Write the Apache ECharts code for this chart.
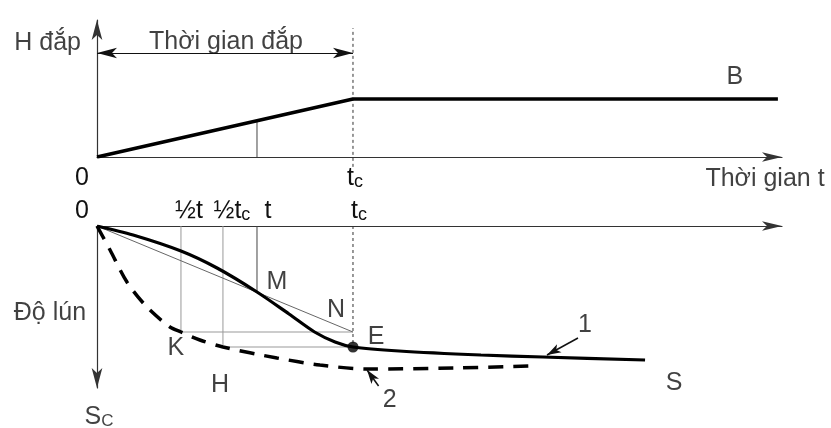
<!DOCTYPE html>
<html>
<head>
<meta charset="utf-8">
<script src="https://cdn.jsdelivr.net/npm/echarts@6/dist/echarts.min.js"></script>
<style>
html,body{margin:0;padding:0;background:#fff;}
#chart{width:831px;height:428px;}
</style>
</head>
<body>
<div id="chart"></div>
<script>
// ---------- data (time in units of tc, height in units of final fill, settlement in arbitrary units) ----------
var tc = 1;
var tMark = 0.625;          // the chosen time t
var halfT = 0.328;          // 1/2 t
var halfTc = 0.492;         // 1/2 tc

// fill height H vs time (top panel)
var fillT = [0, 1, 2.66];
var fillH = [0, 1, 1];
var fillAtT = 0.625;         // H at time t
var spanArrowH = 1.793;      // level of the "Thời gian đắp" arrow
var tcLineTop = 2.224;       // top of dotted tc line

// curve 1 : measured settlement (solid)
var curve1T = [0, 0.141, 0.328, 0.469, 0.625, 0.75, 0.85, 0.93, 1.0, 1.18, 1.5, 1.742, 2.141];
var curve1S = [0, 0.09, 0.25, 0.42, 0.66, 0.88, 1.06, 1.16, 1.21, 1.25, 1.29, 1.31, 1.34];

// curve 2 : instantaneous-load settlement (dashed)
var curve2T = [0, 0.051, 0.117, 0.195, 0.285, 0.328, 0.402, 0.492, 0.703, 0.871, 1.055, 1.4, 1.691];
var curve2S = [0, 0.24, 0.56, 0.81, 1.01, 1.06, 1.14, 1.21, 1.32, 1.39, 1.43, 1.42, 1.40];

// key points
var pointM = [tMark, 0.66];
var pointN = [tc, 1.06];
var pointE = [tc, 1.21];
var pointK = [halfT, 1.06];
var pointH = [halfTc, 1.21];

// leader arrows for curve labels 1 and 2
var arrow1From = [1.879, 1.12], arrow1To = [1.758, 1.29];
var arrow2From = [1.1, 1.6], arrow2To = [1.055, 1.44];

// tick labels
var topTickValues = [0, tc];
var topTickLabels = ['{z|0}', '{tp|t}{c|c}'];
var botTickValues = [0, halfT, halfTc, tMark, tc];
var botTickLabels = ['{z|0}', '{ht|½t}', '{htc|½t}{c|c}', '{tt|t}', '{tcc|t}{c|c}'];

// axis extents
var tMax = 2.676, hMax = 2.362, sMax = 1.62;

// ---------- helpers ----------
function zip(a, b, sign) { return a.map(function (v, i) { return [v, (sign || 1) * b[i]]; }); }
function neg(p) { return [p[0], -p[1]]; }

var FONT = "'Liberation Sans', Arial, sans-serif";
var FS = 25;
var INK = '#111';
var AXIS = '#333';
var richBase = {
  z:   { fontSize: FS, lineHeight: FS, padding: [0, 30, 0, 0] },
  tp:  { fontSize: FS, lineHeight: FS, padding: [0, 0, 0, 4], verticalAlign: 'bottom' },
  c:   { fontSize: 18, lineHeight: 21, verticalAlign: 'bottom' },
  ht:  { fontSize: FS, lineHeight: FS, padding: [0, 0, 0, 16] },
  htc: { fontSize: FS, lineHeight: FS, padding: [0, 0, 0, 18], verticalAlign: 'bottom' },
  tt:  { fontSize: FS, lineHeight: FS, padding: [0, 0, 0, 22] },
  tcc: { fontSize: FS, lineHeight: FS, padding: [0, 0, 0, 12], verticalAlign: 'bottom' },
  sc:  { fontSize: 17, lineHeight: 20, verticalAlign: 'bottom' },
  big: { fontSize: FS, lineHeight: FS, verticalAlign: 'bottom' }
};
function pickLabel(values, labels) {
  return function (v) {
    for (var i = 0; i < values.length; i++) if (Math.abs(values[i] - v) < 1e-6) return labels[i];
    return '';
  };
}
function lbl(value, text, dx, dy) {
  return { value: value, name: text, label: { offset: [dx, dy] } };
}
function labelSeries(xi, data) {
  return {
    type: 'scatter', xAxisIndex: xi, yAxisIndex: xi, clip: false, silent: true,
    symbolSize: 1, itemStyle: { color: 'rgba(0,0,0,0)' },
    label: { show: true, position: 'inside', formatter: '{b}', color: INK,
             fontFamily: FONT, fontSize: FS, rich: richBase },
    data: data, z: 10
  };
}
function seg(xi, pts, color, width, type, extra) {
  var s = {
    type: 'line', xAxisIndex: xi, yAxisIndex: xi, data: pts, symbol: 'none', silent: true,
    lineStyle: { color: color, width: width, type: type || 'solid' }
  };
  if (extra) for (var k in extra) s[k] = extra[k];
  return s;
}
var axisLineStyle = { color: AXIS, width: 1.2 };

var option = {
  animation: false,
  backgroundColor: '#fff',
  grid: [
    { left: 97, top: 20, width: 685, height: 137 },
    { left: 97, top: 226, width: 685, height: 162 }
  ],
  xAxis: [
    { gridIndex: 0, type: 'value', min: 0, max: tMax,
      axisLine: { show: true, onZero: true, symbol: ['none', 'arrow'], symbolSize: [7, 20], lineStyle: axisLineStyle },
      axisTick: { show: false }, splitLine: { show: false },
      axisLabel: { show: true, customValues: topTickValues, margin: 9, color: INK, fontFamily: FONT, fontSize: FS,
                   formatter: pickLabel(topTickValues, topTickLabels), rich: richBase } },
    { gridIndex: 1, type: 'value', min: 0, max: tMax, position: 'top',
      axisLine: { show: true, onZero: true, symbol: ['none', 'arrow'], symbolSize: [7, 20], lineStyle: axisLineStyle },
      axisTick: { show: false }, splitLine: { show: false },
      axisLabel: { show: true, customValues: botTickValues, margin: 2, color: INK, fontFamily: FONT, fontSize: FS,
                   formatter: pickLabel(botTickValues, botTickLabels), rich: richBase } }
  ],
  yAxis: [
    { gridIndex: 0, type: 'value', min: 0, max: hMax,
      axisLine: { show: true, onZero: true, symbol: ['none', 'arrow'], symbolSize: [8, 20], lineStyle: axisLineStyle },
      axisTick: { show: false }, splitLine: { show: false }, axisLabel: { show: false } },
    { gridIndex: 1, type: 'value', min: -sMax, max: 0,
      axisLine: { show: true, onZero: true, symbol: ['arrow', 'none'], symbolSize: [8, 20], lineStyle: axisLineStyle },
      axisTick: { show: false }, splitLine: { show: false }, axisLabel: { show: false } }
  ],
  series: [
    // ---- top panel ----
    seg(0, [[tMark, 0], [tMark, fillAtT]], '#444', 1),
    seg(0, [[tc, -0.17], [tc, tcLineTop]], '#333', 1, [3, 3], { clip: false }),
    seg(0, zip(fillT, fillH), '#000', 3.5, 'solid', {
      z: 5,
      markLine: {
        silent: true, animation: false, label: { show: false },
        symbol: ['arrow', 'arrow'], symbolSize: [8, 20],
        lineStyle: { color: '#111', width: 1.2, type: 'solid' },
        data: [[{ coord: [0, spanArrowH] }, { coord: [tc, spanArrowH] }]]
      }
    }),
    labelSeries(0, [
      lbl([-0.193, 1.966], 'H đắp', 0, 0),
      lbl([tc / 2, spanArrowH], 'Thời gian đắp', 1, -11),
      lbl([fillT[fillT.length - 1], fillH[fillH.length - 1]], 'B', -43, -22),
      lbl([tMax, 0], 'Thời gian t', -17, 22)
    ]),
    // ---- bottom panel ----
    seg(1, [[halfT, 0], neg(pointK)], '#999', 1),
    seg(1, [[halfTc, 0], neg(pointH)], '#999', 1),
    seg(1, [neg(pointK), neg(pointN)], '#999', 1),
    seg(1, [neg(pointH), neg(pointE)], '#999', 1),
    seg(1, [[tMark, 0], neg(pointM)], '#444', 1),
    seg(1, [[0, 0], neg(pointN)], '#666', 1),
    seg(1, [[tc, 0], neg(pointE)], '#333', 1, [3, 3]),
    seg(1, zip(curve2T, curve2S, -1), '#000', 3.5, [15, 10], { smooth: 0.3, z: 4 }),
    seg(1, zip(curve1T, curve1S, -1), '#000', 3.2, 'solid', {
      smooth: 0.3, z: 5,
      markLine: {
        silent: true, animation: false, label: { show: false },
        symbol: ['none', 'arrow'], symbolSize: [7, 14],
        lineStyle: { color: '#111', width: 1.5, type: 'solid' },
        data: [
          [{ coord: neg(arrow1From) }, { coord: neg(arrow1To) }],
          [{ coord: neg(arrow2From) }, { coord: neg(arrow2To) }]
        ]
      }
    }),
    { type: 'scatter', xAxisIndex: 1, yAxisIndex: 1, silent: true, symbolSize: 11,
      itemStyle: { color: '#000' }, data: [neg(pointE)], z: 6 },
    labelSeries(1, [
      lbl([-0.184, -0.87], 'Độ lún', 0, 0),
      lbl([0, -sMax], '{big|S}{sc|C}', 2, 29),
      lbl(neg(pointM), 'M', 20, -10),
      lbl(neg(pointN), 'N', -17, -22),
      lbl(neg(pointE), 'E', 23, -10),
      lbl(neg(pointK), 'K', -5, 16),
      lbl(neg(pointH), 'H', -3, 38),
      lbl(neg(arrow1From), '1', 7, -13),
      lbl(neg(arrow2From), '2', 11, 14),
      lbl([curve1T[curve1T.length - 1], -curve1S[curve1S.length - 1]], 'S', 29, 23)
    ])
  ]
};

var chart = echarts.init(document.getElementById('chart'), null, { renderer: 'canvas' });
chart.setOption(option);
</script>
</body>
</html>
